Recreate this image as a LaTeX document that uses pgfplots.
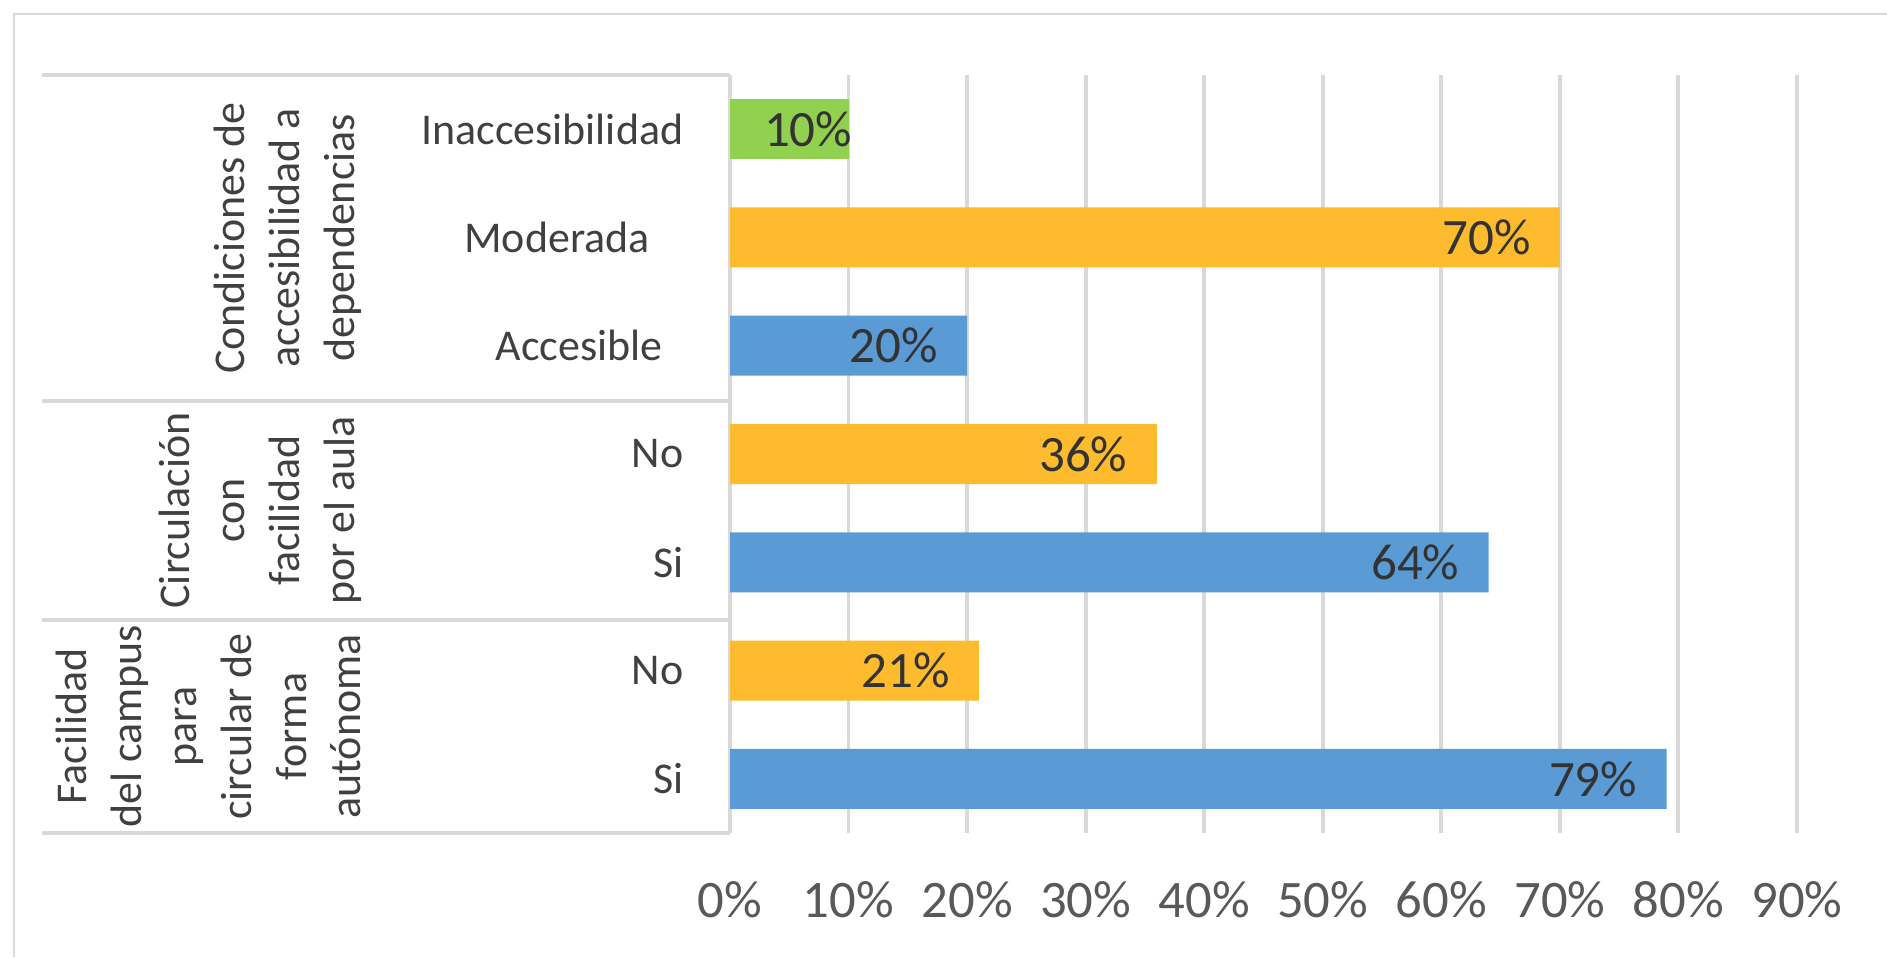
\documentclass[border=0pt]{standalone}
\usepackage{pgfplots}
\pgfplotsset{compat=1.18}
\usepackage{fontspec}
\setmainfont{Carlito}
\definecolor{barblue}{HTML}{5B9BD5}
\definecolor{barorange}{HTML}{FDBB2D}
\definecolor{bargreen}{HTML}{92D050}
\definecolor{gridgray}{HTML}{D9D9D9}
\definecolor{txtgray}{HTML}{404040}
\definecolor{tickgray}{HTML}{595959}
\definecolor{valgray}{HTML}{333333}
\newcommand{\lbl}{\fontsize{12.5}{15.6}\selectfont}
\begin{document}
\begin{tikzpicture}
% picture size = reference size at 1px = 0.01cm
\path[use as bounding box] (0,0) rectangle (18.87,9.57);
\draw[gridgray, line width=0.8pt] (0.14,0) -- (0.14,9.43) -- (18.87,9.43);
\begin{axis}[
    at={(7.30cm,1.24cm)}, anchor=south west,
    scale only axis, width=10.67cm, height=7.58cm,
    xbar, bar width=0.6cm, bar shift=0pt,
    xmin=0, xmax=90, ymin=-0.5, ymax=6.5,
    xtick={0,10,...,90}, ytick=\empty,
    xticklabel={\pgfmathprintnumber{\tick}\%},
    /pgf/number format/assume math mode=true,
    xticklabel style={anchor=base, yshift=-0.84cm, text=tickgray, font=\fontsize{15}{17}\selectfont},
    xmajorgrids, grid style={gridgray, line width=1.1pt},
    axis line style={draw=none}, major tick style={draw=none},
    nodes near coords={\pgfmathprintnumber{\pgfplotspointmeta}\%},
    nodes near coords style={anchor=east, xshift=-0.17cm, text=valgray, font=\fontsize{14.5}{17}\selectfont},
    point meta=x, clip=false,
]
\addplot[fill=barblue, draw=none] coordinates {(79,0) (64,2) (20,4)};
\addplot[fill=barorange, draw=none] coordinates {(21,1) (36,3) (70,5)};
\addplot[fill=bargreen, draw=none, nodes near coords style={xshift=0.33cm}] coordinates {(10,6)};
\end{axis}
% group separators
\foreach \y in {8.824,5.56,3.37,1.24} \draw[gridgray, line width=1.1pt] (0.42,\y) -- (7.30,\y);
% category labels
\begin{scope}[every node/.style={text=txtgray, font=\lbl, inner sep=0pt}]
\node[anchor=east] at (6.84,8.279) {Inaccesibilidad};
\node at (5.57,7.196) {Moderada};
\node at (5.79,6.113) {Accesible};
\node[anchor=east] at (6.84,5.030) {No};
\node[anchor=east] at (6.84,3.947) {Si};
\node[anchor=east] at (6.84,2.864) {No};
\node[anchor=east] at (6.84,1.781) {Si};
\node[rotate=90, anchor=south, align=center] at (3.62,7.19) {Condiciones de\\accesibilidad a\\dependencias};
\node[rotate=90, anchor=south, align=center] at (3.62,4.465) {Circulación\\con\\facilidad\\por el aula};
\node[rotate=90, anchor=south, align=center] at (3.62,2.305) {Facilidad\\del campus\\para\\circular de\\forma\\autónoma};
\end{scope}
\end{tikzpicture}
\end{document}
